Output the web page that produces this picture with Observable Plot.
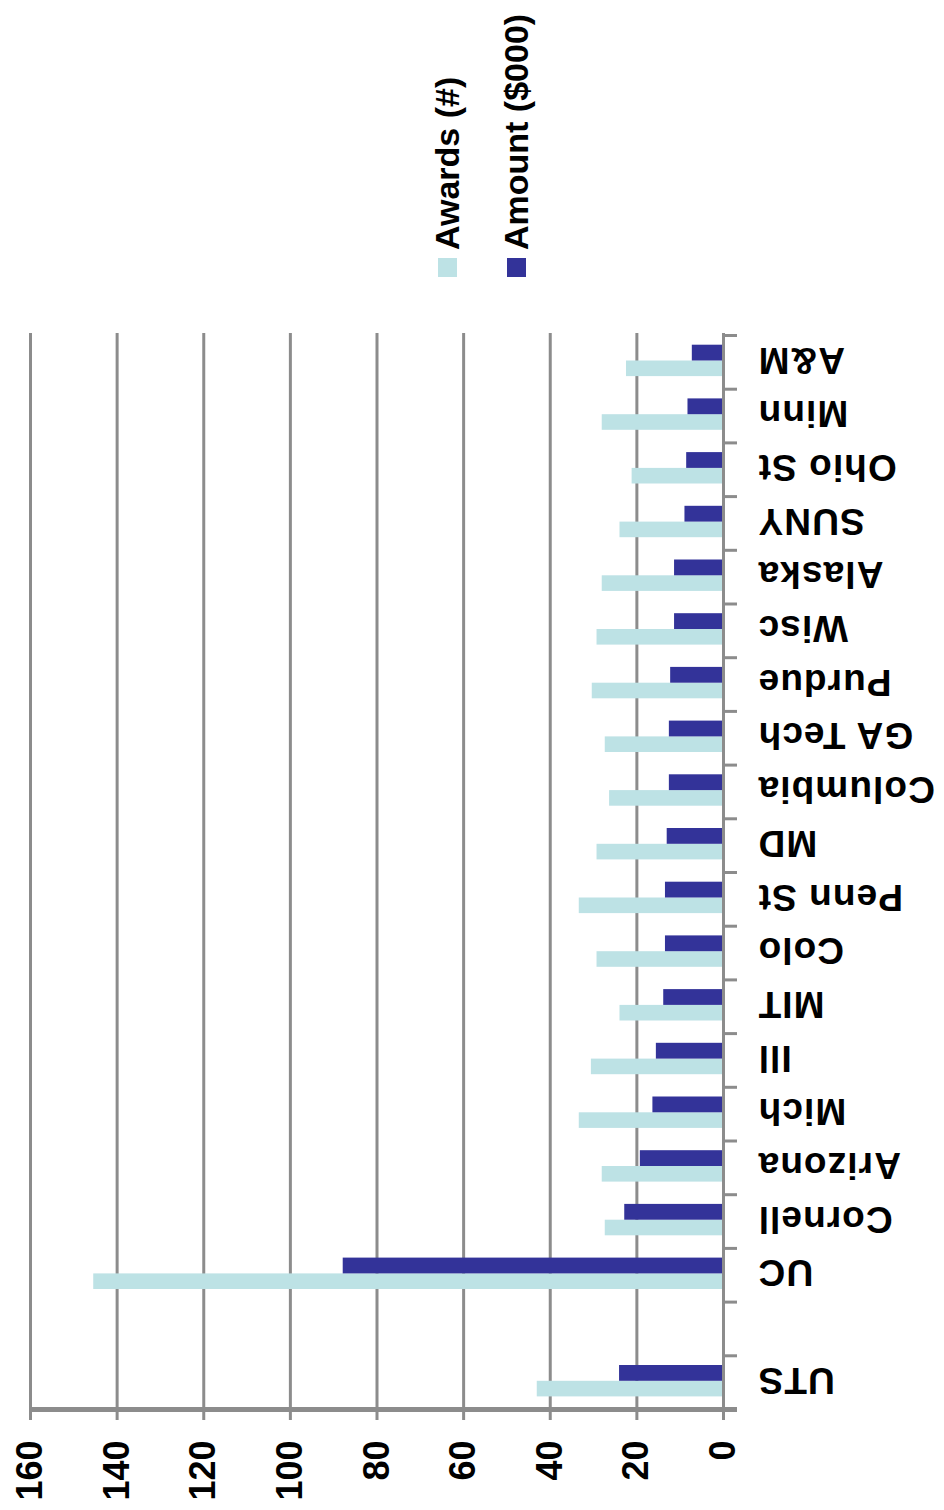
<!DOCTYPE html>
<html>
<head>
<meta charset="utf-8">
<script src="https://cdn.jsdelivr.net/npm/d3@7"></script>
<script src="https://cdn.jsdelivr.net/npm/@observablehq/plot@0.6"></script>
<style>
  html, body { margin: 0; padding: 0; background: #fff; }
  #wrap { position: relative; width: 944px; height: 1510px; }
  .legend-item {
    position: absolute; transform-origin: 0 0; transform: rotate(-90deg);
    display: flex; align-items: center; height: 35px; white-space: nowrap;
    font: bold 34px "Liberation Sans", Arial, sans-serif; line-height: 35px; color: #000;
  }
  .swatch { display: inline-block; width: 19px; height: 19px; margin-right: 8px; flex: none; }
  .cat-labels text { letter-spacing: 1.1px; }
</style>
</head>
<body>
<div id="wrap"></div>
<script>
// ---- data (original chart order, left to right) ----
const categories = ["UTS", "", "UC", "Cornell", "Arizona", "Mich", "Ill", "MIT", "Colo", "Penn St", "MD",
  "Columbia", "GA Tech", "Purdue", "Wisc", "Alaska", "SUNY", "Ohio St", "Minn", "A&M"];
const awards  = [43.0, null, 145.4, 27.3, 28.0, 33.3, 30.5, 23.9, 29.2, 33.3, 29.2,
  26.3, 27.3, 30.3, 29.2, 28.0, 23.9, 21.1, 28.0, 22.4];
const amounts = [24.0, null, 87.8, 22.8, 19.2, 16.3, 15.5, 13.8, 13.4, 13.4, 13.0,
  12.5, 12.5, 12.2, 11.3, 11.3, 8.9, 8.5, 8.2, 7.2];
const seriesNames = ["Awards (#)", "Amount ($000)"];
const seriesColors = ["#bde2e5", "#333399"];
const valueTicks = [0, 20, 40, 60, 80, 100, 120, 140, 160];

// ---- layout ----
const W = 944, H = 1510;
const mt = 335, mb = 101, ml = 30, mr = 221;
const slot = (H - mt - mb) / categories.length;
const grid = "#8c8c8c";
const font = "Liberation Sans, Arial, sans-serif";

const rows = categories.map((c, i) => ({category: c, awards: awards[i], amount: amounts[i]}))
  .filter(d => d.awards != null);

const chart = Plot.plot({
  width: W, height: H,
  marginTop: mt, marginBottom: mb, marginLeft: ml, marginRight: mr,
  style: {fontFamily: font, background: "#fff"},
  x: {domain: [0, 160], reverse: true, axis: null},
  y: {domain: categories, reverse: true, padding: 0, round: false, axis: null},
  marks: [
    // vertical gridlines (and ticks below baseline)
    Plot.ruleX(valueTicks.filter(d => d > 0), {x: d => d, stroke: grid, strokeWidth: 3, insetTop: -2, insetBottom: -11}),
    // bars
    Plot.barX(rows, {y: "category", x1: 0, x2: "awards", fill: seriesColors[0], insetTop: 25.5, insetBottom: 12.6}),
    Plot.barX(rows, {y: "category", x1: 0, x2: "amount", fill: seriesColors[1], insetTop: 9.7, insetBottom: 28.2}),
    // category axis line at zero
    Plot.ruleX([0], {x: d => d, stroke: grid, strokeWidth: 3, insetTop: -2, insetBottom: -11}),
    // category boundary ticks
    Plot.ruleY(categories, {y: d => d, x1: 0, x2: 0, insetRight: -14, dy: -slot / 2, stroke: grid, strokeWidth: 3}),
    // baseline
    Plot.ruleY([categories[0]], {y: d => d, dy: slot / 2, insetRight: -14, stroke: grid, strokeWidth: 5}),
    // value tick labels
    Plot.text(valueTicks, {x: d => d, text: d => String(d), frameAnchor: "bottom", dy: 31, rotate: -90,
      textAnchor: "end", lineAnchor: "middle", fontSize: 36, fontWeight: "bold", fill: "#000"}),
    // category labels (upside down)
    Plot.text(categories, {y: d => d, text: d => d, frameAnchor: "right", dx: 34, dy: -3, rotate: 180,
      textAnchor: "end", lineAnchor: "middle", fontSize: 37, fontWeight: "bold", fill: "#000",
      className: "cat-labels"})
  ]
});

const wrap = document.getElementById("wrap");
wrap.appendChild(chart);

// legend (rotated, reading bottom to top)
const legendLeft = [430, 498.5];
seriesNames.forEach((name, i) => {
  const item = document.createElement("div");
  item.className = "legend-item";
  item.style.left = legendLeft[i] + "px";
  item.style.top = "277px";
  const sw = document.createElement("span");
  sw.className = "swatch";
  sw.style.background = seriesColors[i];
  const tx = document.createElement("span");
  tx.textContent = name;
  item.appendChild(sw);
  item.appendChild(tx);
  wrap.appendChild(item);
});
</script>
</body>
</html>
